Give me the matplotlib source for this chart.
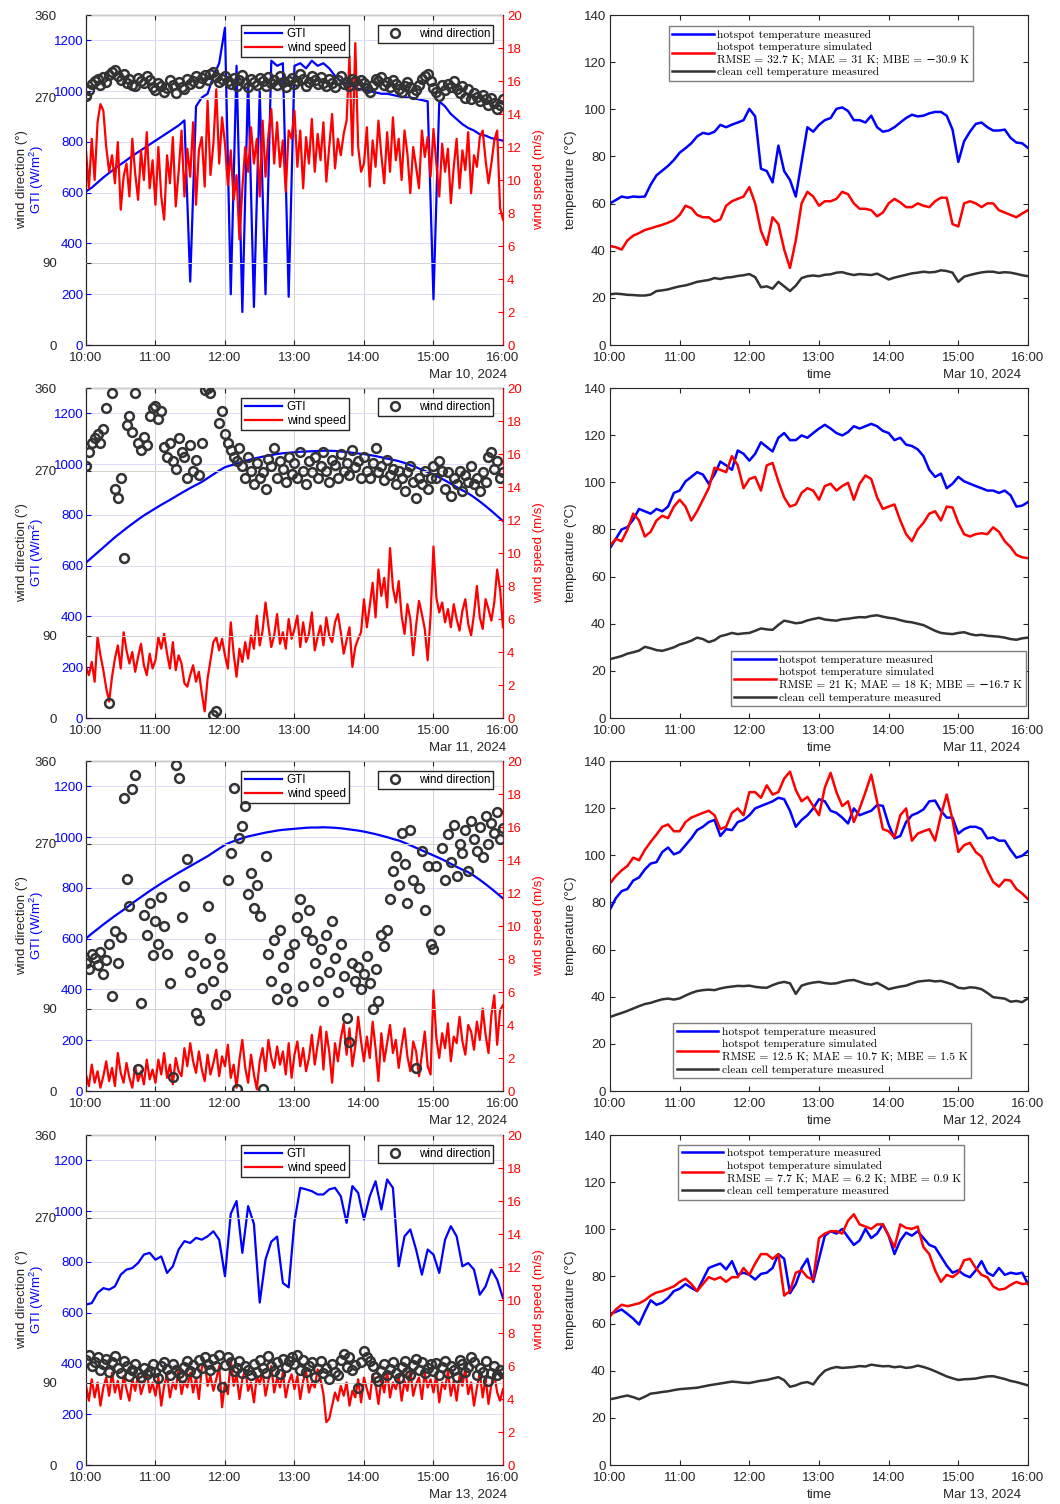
"""GTI / wind and hotspot temperature panels, 10-13 March 2024 (4 x 2 layout)."""
import numpy as np
import matplotlib

matplotlib.use("Agg")
import matplotlib.pyplot as plt
from matplotlib.font_manager import FontProperties

plt.rcParams["font.family"] = ["Liberation Sans", "DejaVu Sans"]
plt.rcParams["mathtext.fontset"] = "custom"
plt.rcParams["mathtext.rm"] = "Liberation Sans"
plt.rcParams["mathtext.it"] = "Liberation Sans:italic"

BLUE = "#0000ff"
RED = "#ff0000"
DARK = "#333333"
AXC = "#262626"

# ── time base: 5-min for GTI / temperatures, 2.5-min for wind ──────────
t5 = 10 + np.arange(73) / 12.0
t25 = 10 + np.arange(145) / 24.0
hours = [10, 11, 12, 13, 14, 15, 16]
hour_labels = ["10:00", "11:00", "12:00", "13:00", "14:00", "15:00", "16:00"]
dates = ["Mar 10, 2024", "Mar 11, 2024", "Mar 12, 2024", "Mar 13, 2024"]
metrics = [
    "RMSE = 32.7 K; MAE = 31 K; MBE = \u221230.9 K",
    "RMSE = 21 K; MAE = 18 K; MBE = \u221216.7 K",
    "RMSE = 12.5 K; MAE = 10.7 K; MBE = 1.5 K",
    "RMSE = 7.7 K; MAE = 6.2 K; MBE = 0.9 K",
]

# ── GTI (W/m2) ─────────────────────────────────────────────────────────
gti_10 = [605, 620, 640, 660, 678, 695, 712, 728, 745, 760, 775, 790,
          805, 820, 835, 850, 865, 885, 250, 940, 975, 990, 1060, 1110,
          1250, 200, 1100, 130, 1050, 150, 1000, 200, 1120, 1100, 1110, 190,
          1100, 1110, 1090, 1120, 1100, 1110, 1090, 1060, 1040, 1030, 1020, 1010,
          1005, 1000, 995, 990, 990, 985, 980, 975, 975, 970, 965, 960,
          180, 960, 940, 910, 890, 870, 855, 845, 830, 825, 815, 810, 805]
gti_11 = [612, 632, 652, 672, 692, 712, 730, 748, 765, 782, 798, 812,
          826, 840, 853, 866, 880, 893, 906, 918, 930, 945, 960, 975,
          988, 995, 1002, 1010, 1016, 1022, 1027, 1032, 1036, 1040, 1043, 1045,
          1047, 1049, 1050, 1051, 1052, 1053, 1053, 1052, 1050, 1048, 1045, 1042,
          1040, 1036, 1032, 1027, 1022, 1017, 1012, 1005, 996, 988, 978, 969,
          960, 948, 936, 923, 910, 897, 885, 870, 853, 835, 816, 796, 776]
gti_12 = [601, 620, 638, 656, 673, 690, 706, 722, 740, 756, 772, 788,
          803, 818, 832, 846, 860, 873, 886, 899, 912, 925, 940, 955,
          970, 980, 988, 996, 1003, 1008, 1013, 1018, 1022, 1026, 1029, 1031,
          1033, 1035, 1037, 1038, 1038, 1039, 1038, 1037, 1035, 1032, 1029, 1026,
          1022, 1017, 1012, 1006, 1000, 993, 987, 978, 968, 958, 948, 938,
          928, 918, 907, 895, 883, 872, 862, 848, 832, 815, 797, 778, 759]
gti_13 = [632, 638, 678, 697, 691, 704, 750, 770, 776, 796, 829, 836,
          809, 822, 757, 783, 849, 882, 875, 895, 888, 901, 921, 888,
          744, 990, 1040, 836, 1020, 950, 640, 810, 880, 900, 717, 700,
          960, 1092, 1086, 1079, 1066, 1066, 1086, 1092, 1059, 954, 1099, 1072,
          967, 1059, 1118, 1007, 1125, 1092, 783, 901, 928, 849, 750, 849,
          829, 757, 888, 941, 901, 783, 796, 770, 671, 704, 770, 730, 658]

# ── wind speed (m/s) ───────────────────────────────────────────────────
ws_10 = [11.8, 9.5, 12.5, 10.0, 13.5, 14.6, 14.2, 12.0, 10.5, 11.5, 9.8, 12.3,
         8.2, 10.2, 11.0, 9.0, 12.5, 10.4, 8.8, 11.8, 10.0, 12.9, 9.5, 11.2,
         8.5, 12.0, 9.0, 7.6, 11.5, 9.8, 12.6, 8.4, 10.5, 13.0, 9.0, 11.9,
         10.2, 13.5, 8.5, 11.8, 12.6, 9.6, 14.8, 10.3, 12.2, 15.5, 11.0, 13.8,
         12.2, 9.7, 11.8, 8.8, 10.3, 6.4, 9.5, 12.0, 10.5, 13.2, 11.0, 12.5,
         9.0, 13.6, 10.2, 12.7, 14.3, 11.0, 13.5, 10.8, 12.4, 9.3, 13.0, 12.5,
         14.2, 10.8, 13.0, 9.5, 12.6, 11.0, 13.7, 10.5, 12.8, 11.2, 13.5, 9.9,
         12.0, 14.0, 10.7, 12.5, 11.5, 12.8, 13.6, 17.5, 11.5, 18.3, 12.0, 10.5,
         11.0, 13.2, 9.6, 12.4, 10.8, 13.6, 11.5, 9.8, 12.9, 10.5, 13.8, 11.2,
         12.5, 10.0, 13.0, 11.6, 9.2, 12.0, 10.8, 9.5, 13.0, 11.4, 12.6, 10.2,
         13.1, 11.0, 9.0, 12.2, 10.5, 11.9, 8.6, 10.8, 12.5, 9.5, 11.8, 10.6,
         12.9, 9.2, 11.5, 10.8, 12.6, 13.0, 11.2, 9.8, 11.0, 12.4, 13.0, 8.3, 7.6]
ws_11 = [3.1, 2.6, 3.4, 2.2, 4.9, 3.8, 2.9, 1.8, 1.0, 2.5, 3.6, 4.4,
         3.0, 5.2, 4.1, 3.3, 4.0, 2.8, 3.7, 4.5, 3.2, 2.6, 3.9, 3.0,
         3.5, 4.9, 4.2, 5.1, 3.9, 3.0, 4.6, 2.9, 3.8, 3.3, 2.1, 1.9,
         2.6, 3.2, 2.2, 2.8, 1.5, 0.4, 2.4, 3.5, 4.6, 4.9, 4.1, 4.8,
         3.8, 3.0, 5.8, 3.9, 2.5, 4.2, 3.4, 4.6, 3.6, 5.0, 4.2, 6.2,
         4.4, 5.3, 7.0, 5.6, 4.3, 5.0, 6.3, 4.5, 5.2, 4.2, 6.0, 4.8,
         5.4, 6.2, 4.3, 5.8, 4.6, 5.1, 6.4, 4.1, 4.9, 5.6, 4.4, 6.1,
         5.0, 4.6, 5.8, 6.3, 5.2, 3.9, 4.7, 5.5, 3.1, 4.3, 4.8, 5.2,
         7.2, 5.5, 6.8, 8.2, 6.1, 9.0, 7.4, 8.5, 6.7, 10.3, 7.9, 7.0,
         8.3, 6.2, 5.1, 6.9, 6.0, 3.8, 5.6, 7.1, 6.3, 5.4, 3.5, 6.2,
         10.4, 7.3, 6.4, 7.0, 5.8, 6.6, 5.5, 6.9, 6.0, 5.3, 6.5, 7.2,
         5.7, 5.0, 6.3, 8.0, 6.1, 5.4, 7.2, 6.6, 5.9, 7.0, 9.0, 7.8, 5.5]
ws_12 = [1.0, 0.3, 1.6, 0.5, 1.2, 0.2, 0.9, 1.8, 0.6, 1.4, 0.3, 2.3,
         1.1, 0.5, 1.7, 0.8, 0.2, 1.5, 0.6, 1.2, 0.4, 1.9, 0.7, 1.3,
         0.5, 1.9, 1.0, 2.3, 0.8, 1.6, 0.4, 2.0, 1.2, 0.9, 2.6, 1.5,
         2.9, 1.8, 1.1, 2.4, 1.3, 0.6, 2.2, 1.0, 1.7, 2.5, 0.9, 2.1,
         1.5, 2.8, 0.8, 1.6, 0.2, 1.9, 3.1, 1.4, 0.5, 2.2, 1.0, 0.1,
         1.8, 2.6, 1.2, 3.1, 2.0, 1.4, 2.7, 1.6, 2.4, 1.0, 2.9, 0.8,
         2.2, 3.0, 1.5, 2.6, 1.2, 2.0, 3.4, 1.6, 2.8, 3.9, 1.3, 3.6,
         2.4, 0.5, 2.9, 1.8, 3.2, 4.1, 2.2, 3.8, 1.5, 2.7, 4.5, 3.0,
         1.8, 3.3, 2.0, 4.2, 2.6, 0.6, 3.5, 1.8, 2.9, 4.0, 2.3, 3.1,
         1.4, 2.7, 3.8, 2.1, 1.2, 3.0, 2.4, 0.9, 2.2, 3.6, 1.5, 1.0,
         6.1, 3.2, 2.0, 3.5, 2.6, 4.1, 1.8, 3.3, 2.9, 4.5, 3.0, 2.2,
         4.0, 3.6, 2.5, 4.2, 3.1, 5.0, 3.4, 2.3, 4.6, 5.8, 2.8, 4.9, 5.2]
ws_13 = [4.8, 3.9, 5.2, 4.1, 5.0, 3.6, 4.7, 5.3, 4.2, 5.6, 4.4, 5.1,
         4.0, 5.4, 4.6, 3.9, 5.2, 4.5, 5.5, 4.3, 4.9, 5.7, 4.4, 5.0,
         4.2, 5.3, 3.6, 4.8, 5.5, 4.1, 5.0, 4.6, 5.8, 4.3, 5.1, 4.7,
         5.6, 4.4, 5.3, 4.0, 5.9, 6.3, 4.8, 5.4, 4.5, 5.2, 6.0, 3.5,
         5.0, 4.3, 6.4, 4.8, 5.5, 4.0, 5.2, 5.8, 4.5, 5.0, 3.8, 5.4,
         4.9, 5.7, 4.2, 5.1, 6.0, 4.4, 5.3, 4.7, 5.6, 4.1, 5.0, 5.5,
         4.6, 5.4, 4.0, 5.1, 5.7, 4.4, 5.0, 4.7, 5.8, 5.2, 4.3, 2.6,
         2.8, 3.6, 4.4, 3.9, 4.8, 4.2, 5.0, 3.6, 4.5, 4.1, 5.2, 3.8,
         5.3, 4.6, 4.0, 5.5, 4.9, 3.7, 5.2, 4.4, 5.7, 4.1, 5.0, 4.6,
         5.4, 3.9, 5.1, 4.5, 5.8, 4.2, 4.9, 5.3, 4.0, 5.6, 4.7, 5.2,
         4.4, 5.5, 3.8, 5.0, 4.6, 5.7, 4.2, 5.1, 3.9, 5.4, 4.8, 5.9,
         4.3, 5.0, 3.6, 4.7, 5.6, 4.1, 5.3, 3.7, 4.9, 5.5, 4.4, 3.9, 4.6]

# ── wind direction (deg) ───────────────────────────────────────────────
wd_10 = [272, 278, 285, 288, 290, 284, 292, 287, 295, 298, 300, 294,
         289, 296, 286, 290, 284, 283, 291, 288, 286, 293, 289, 281,
         278, 286, 283, 276, 280, 289, 284, 275, 287, 282, 279, 290,
         285, 288, 293, 286, 291, 295, 289, 296, 298, 292, 287, 290,
         294, 288, 285, 291, 283, 289, 295, 286, 282, 290, 287, 284,
         291, 288, 283, 292, 286, 289, 284, 293, 287, 282, 288, 291,
         285, 288, 296, 290, 283, 287, 294, 289, 285, 292, 286, 283,
         290, 286, 281, 289, 293, 285, 287, 283, 290, 288, 284, 289,
         286, 280, 276, 284, 290, 288, 292, 284, 287, 282, 289, 285,
         279, 276, 283, 287, 281, 274, 278, 284, 290, 293, 296, 288,
         280, 276, 272, 284, 278, 285, 281, 288, 279, 275, 283, 270,
         279, 268, 275, 271, 266, 273, 268, 262, 270, 264, 258, 262, 268]
wd_11 = [275, 290, 300, 305, 310, 300, 315, 338, 16, 355, 250, 240,
         262, 175, 320, 330, 312, 355, 300, 292, 307, 298, 330, 338,
         340, 326, 335, 296, 285, 300, 280, 272, 305, 290, 285, 262,
         298, 270, 282, 265, 300, 358, 360, 355, 3, 8, 322, 335,
         310, 300, 292, 285, 280, 295, 275, 262, 285, 270, 255, 278,
         262, 268, 250, 283, 275, 295, 262, 280, 272, 258, 285, 266,
         278, 262, 290, 270, 255, 280, 268, 285, 262, 275, 290, 270,
         258, 282, 276, 262, 288, 270, 278, 265, 292, 274, 280, 262,
         285, 270, 262, 278, 295, 268, 275, 260, 282, 265, 272, 255,
         270, 262, 248, 268, 275, 258, 240, 262, 255, 270, 250, 262,
         275, 262, 280, 270, 250, 268, 242, 262, 255, 270, 248, 265,
         258, 275, 255, 262, 248, 268, 258, 285, 290, 272, 280, 262, 268]
wd_12 = [140, 133, 150, 145, 138, 152, 128, 143, 160, 104, 175, 140,
         168, 320, 231, 202, 329, 345, 24, 96, 192, 170, 205, 148,
         185, 160, 212, 180, 150, 118, 15, 356, 342, 190, 224, 253,
         130, 148, 85, 78, 112, 140, 202, 167, 120, 95, 150, 135,
         105, 230, 260, 331, 2, 276, 289, 311, 215, 238, 200, 225,
         191, 2, 256, 150, 120, 165, 100, 176, 135, 112, 150, 98,
         160, 190, 209, 115, 175, 198, 165, 140, 120, 155, 98, 170,
         130, 185, 145, 108, 160, 125, 80, 53, 140, 120, 135, 111,
         128, 147, 118, 90, 133, 98, 170, 158, 176, 210, 240, 256,
         225, 282, 248, 205, 285, 230, 25, 222, 262, 198, 245, 160,
         155, 245, 176, 265, 230, 280, 250, 290, 235, 270, 260, 285,
         240, 295, 275, 262, 288, 255, 300, 270, 292, 282, 304, 275, 287]
wd_13 = [115, 120, 108, 112, 118, 104, 110, 116, 102, 112, 119, 106,
         100, 113, 108, 97, 104, 110, 100, 96, 106, 99, 103, 110,
         102, 95, 108, 112, 105, 98, 110, 104, 100, 96, 107, 113,
         103, 109, 100, 115, 106, 118, 110, 104, 116, 108, 120, 85,
         109, 118, 112, 103, 106, 114, 100, 108, 104, 98, 110, 102,
         115, 106, 100, 119, 108, 103, 112, 99, 116, 107, 113, 118,
         110, 120, 104, 115, 101, 108, 112, 96, 105, 113, 100, 106,
         94, 110, 102, 98, 115, 121, 107, 118, 104, 109, 84, 112,
         124, 118, 113, 108, 96, 92, 103, 110, 98, 105, 112, 100,
         95, 107, 114, 102, 98, 109, 116, 104, 112, 100, 106, 110,
         103, 111, 98, 107, 114, 100, 108, 104, 96, 115, 110, 101,
         107, 118, 112, 98, 106, 102, 113, 92, 100, 108, 98, 104, 100]

# ── hotspot measured (degC) ────────────────────────────────────────────
hs_meas_10 = [60.1, 61.5, 63.0, 62.5, 63.0, 62.8, 63.0, 68.0, 72.0, 74.0, 76.0, 78.5,
              81.6, 83.5, 85.6, 88.5, 90.0, 89.5, 90.5, 93.4, 92.4, 93.5, 94.4, 95.4,
              100.2, 97.0, 74.8, 73.8, 69.0, 84.6, 73.8, 70.0, 63.0, 77.7, 92.4, 90.5,
              93.4, 95.4, 96.3, 100.2, 100.8, 99.3, 95.4, 95.4, 94.4, 97.3, 92.4, 90.5,
              91.0, 92.4, 94.4, 96.3, 97.7, 97.0, 97.3, 98.3, 98.9, 98.9, 97.3, 91.4,
              77.7, 86.5, 90.5, 93.8, 94.4, 92.4, 91.0, 91.0, 91.4, 87.9, 85.9, 85.6, 83.6]
hs_meas_11 = [72.1, 76.0, 80.0, 81.0, 84.2, 88.7, 87.7, 86.7, 88.7, 87.7, 89.7, 95.5,
              96.5, 100.4, 102.3, 104.3, 103.3, 99.4, 103.3, 108.8, 107.2, 105.3, 113.5, 112.1,
              109.2, 112.1, 117.0, 115.0, 113.1, 118.9, 120.9, 117.9, 117.9, 119.9, 118.9, 120.9,
              122.8, 124.4, 122.8, 120.9, 119.9, 121.3, 123.8, 122.8, 123.8, 124.8, 123.8, 121.8,
              120.9, 117.9, 118.9, 116.0, 115.4, 114.0, 111.1, 105.3, 102.3, 103.7, 97.5, 99.4,
              102.3, 100.4, 99.4, 98.4, 97.5, 96.5, 96.5, 95.5, 96.5, 94.5, 89.7, 90.1, 91.6]
hs_meas_12 = [77.0, 81.8, 84.8, 85.7, 89.3, 90.6, 94.0, 96.5, 97.1, 101.4, 103.3, 100.4,
              101.4, 104.3, 107.2, 110.7, 112.1, 114.1, 115.0, 108.2, 111.1, 110.7, 114.1, 115.0,
              117.0, 119.9, 120.9, 121.9, 122.9, 124.4, 123.8, 118.9, 112.1, 115.0, 117.0, 119.9,
              123.8, 122.9, 118.9, 118.0, 116.0, 113.5, 119.9, 117.0, 118.0, 118.9, 121.3, 121.0,
              113.0, 107.2, 108.2, 114.1, 117.0, 118.0, 119.5, 122.9, 123.2, 118.9, 116.0, 116.0,
              109.2, 111.1, 112.1, 112.1, 111.1, 107.2, 107.6, 106.2, 106.2, 102.3, 99.0, 99.8, 101.8]
hs_meas_13 = [64.1, 65.0, 66.0, 64.1, 62.1, 59.6, 65.0, 69.9, 68.0, 68.9, 70.9, 73.8,
              74.8, 76.8, 75.2, 73.8, 78.7, 83.6, 84.6, 85.5, 83.0, 86.5, 80.7, 81.6,
              80.7, 78.7, 81.1, 81.6, 83.6, 89.5, 87.5, 72.9, 76.8, 83.6, 87.5, 77.7,
              87.5, 97.3, 99.2, 98.2, 100.2, 96.7, 93.4, 95.3, 100.2, 96.3, 98.2, 102.1,
              97.3, 89.5, 95.3, 98.6, 97.3, 99.2, 96.3, 93.4, 92.4, 88.5, 84.6, 81.6,
              82.6, 80.7, 79.7, 82.6, 86.5, 81.6, 80.3, 83.6, 80.7, 81.6, 81.1, 81.6, 76.8]

# ── hotspot simulated (degC) ───────────────────────────────────────────
hs_sim_10 = [42.0, 41.5, 40.5, 44.4, 46.4, 47.5, 48.8, 49.5, 50.3, 51.0, 51.9, 53.0,
             55.2, 59.1, 58.1, 55.2, 54.2, 54.2, 52.3, 53.3, 59.1, 61.0, 62.0, 63.0,
             67.0, 60.1, 48.4, 42.5, 54.2, 51.3, 40.5, 32.7, 44.4, 60.1, 65.0, 63.0,
             59.1, 61.0, 61.0, 62.0, 65.0, 64.0, 60.1, 57.8, 57.8, 57.2, 54.6, 56.2,
             60.1, 62.0, 60.5, 58.5, 58.5, 60.1, 59.1, 58.5, 61.0, 62.5, 62.5, 51.3,
             50.3, 60.1, 61.0, 60.1, 58.5, 60.1, 60.1, 57.2, 56.2, 55.2, 54.2, 55.8, 57.2]
hs_sim_11 = [73.1, 76.0, 75.0, 80.0, 86.7, 83.8, 77.0, 79.0, 83.8, 85.8, 84.8, 89.7,
             92.6, 89.7, 83.8, 87.7, 92.6, 97.5, 106.2, 105.3, 104.3, 111.1, 107.2, 97.5,
             101.4, 102.3, 96.5, 107.2, 108.2, 100.4, 93.6, 89.7, 90.6, 95.5, 97.5, 96.5,
             92.6, 98.4, 99.4, 96.5, 98.4, 99.8, 92.6, 99.4, 102.9, 101.4, 93.6, 88.7,
             89.7, 90.6, 83.8, 78.0, 75.0, 80.0, 82.8, 86.7, 87.7, 83.8, 89.7, 89.3,
             82.8, 78.0, 77.0, 78.0, 78.4, 78.0, 80.9, 79.0, 75.0, 72.5, 69.2, 68.2, 67.8]
hs_sim_12 = [88.1, 91.2, 93.6, 95.5, 99.0, 97.9, 102.3, 105.7, 108.8, 112.1, 113.1, 110.2,
             110.2, 114.1, 116.0, 117.0, 118.0, 118.9, 117.0, 111.1, 112.1, 118.0, 119.9, 117.0,
             126.8, 126.8, 124.4, 129.7, 125.8, 126.8, 132.6, 135.5, 127.7, 122.9, 124.8, 120.9,
             117.0, 128.7, 135.0, 126.8, 120.9, 122.9, 114.1, 119.9, 126.8, 134.2, 122.9, 111.1,
             110.2, 107.6, 117.0, 119.9, 106.2, 109.2, 110.2, 111.1, 106.2, 117.0, 125.8, 115.0,
             101.4, 104.3, 105.3, 101.4, 99.4, 93.6, 88.7, 86.7, 89.6, 89.3, 85.7, 83.8, 81.4]
hs_sim_13 = [63.1, 66.0, 68.0, 67.4, 68.0, 68.6, 69.9, 71.9, 73.2, 73.8, 74.8, 75.8,
             77.7, 79.1, 76.8, 73.8, 76.8, 79.7, 78.7, 79.7, 77.7, 79.7, 79.7, 83.6,
             80.7, 85.5, 89.5, 89.5, 87.5, 89.5, 71.9, 73.8, 81.6, 82.6, 79.7, 78.7,
             96.3, 98.2, 99.2, 99.2, 98.2, 103.7, 106.4, 102.1, 101.2, 100.2, 102.1, 102.1,
             97.3, 92.4, 102.1, 100.6, 100.2, 101.2, 92.4, 89.5, 82.6, 77.7, 80.7, 79.7,
             81.6, 86.9, 87.5, 83.6, 80.7, 79.7, 75.8, 74.4, 74.8, 76.4, 77.7, 76.8, 77.1]

# ── clean cell measured (degC) ─────────────────────────────────────────
clean_10 = [21.5, 21.8, 21.6, 21.3, 21.2, 21.0, 21.0, 21.4, 22.9, 23.2, 23.6, 24.3,
            24.9, 25.3, 26.0, 26.8, 27.2, 27.6, 28.4, 28.0, 28.6, 28.8, 29.3, 29.6,
            30.1, 28.8, 24.5, 24.9, 23.9, 26.8, 24.9, 22.9, 25.2, 28.4, 29.2, 29.5,
            29.2, 29.8, 30.0, 30.7, 30.9, 30.2, 29.7, 30.1, 29.9, 29.7, 30.3, 29.1,
            27.8, 28.6, 29.2, 29.8, 30.4, 30.7, 31.1, 30.8, 31.0, 31.7, 31.4, 30.7,
            26.8, 29.0, 29.7, 30.3, 30.8, 31.1, 31.1, 30.6, 30.9, 30.7, 30.2, 29.6, 29.2]
clean_11 = [25.0, 25.6, 26.3, 27.3, 27.9, 28.6, 30.2, 29.6, 28.8, 28.5, 29.2, 30.0,
            31.2, 31.9, 32.8, 34.1, 33.5, 32.2, 33.0, 34.7, 35.3, 36.1, 35.6, 35.9,
            36.1, 37.0, 38.0, 37.6, 37.4, 39.5, 41.3, 40.8, 40.2, 40.5, 41.4, 42.0,
            42.5, 41.8, 41.5, 41.3, 41.9, 42.1, 42.5, 42.8, 42.7, 43.3, 43.6, 43.0,
            42.5, 42.2, 41.5, 40.9, 40.6, 40.0, 39.4, 38.2, 37.0, 36.1, 35.8, 35.6,
            36.1, 36.4, 35.6, 35.1, 35.3, 34.9, 34.7, 34.5, 34.1, 33.5, 33.2, 33.8, 34.1]
clean_12 = [31.4, 32.3, 33.1, 34.0, 35.0, 36.0, 36.9, 37.4, 38.2, 38.9, 39.2, 38.8,
            39.3, 40.5, 41.6, 42.4, 42.8, 43.0, 42.8, 43.5, 44.0, 44.3, 44.6, 44.5,
            44.7, 44.2, 43.9, 43.8, 44.9, 45.8, 46.3, 45.7, 41.2, 44.7, 45.5, 46.0,
            46.3, 45.8, 45.5, 45.7, 46.4, 46.9, 47.1, 46.3, 45.5, 45.1, 45.9, 44.6,
            43.2, 43.8, 44.3, 44.7, 45.6, 46.4, 46.7, 46.9, 46.5, 46.7, 46.0, 45.2,
            43.8, 43.5, 44.0, 43.8, 43.2, 41.6, 39.8, 39.5, 39.2, 37.9, 38.2, 37.7, 39.3]
clean_13 = [27.9, 28.4, 29.0, 29.5, 28.8, 27.9, 29.0, 30.3, 30.6, 31.0, 31.3, 31.8,
            32.2, 32.4, 32.6, 32.8, 33.3, 33.8, 34.2, 34.6, 35.0, 35.4, 35.2, 34.9,
            34.8, 35.3, 35.8, 36.1, 36.7, 37.3, 36.0, 33.2, 33.8, 34.8, 35.2, 34.2,
            37.5, 40.0, 41.0, 41.6, 41.2, 41.4, 41.6, 42.0, 41.8, 42.6, 42.2, 41.9,
            42.0, 41.5, 41.8, 41.2, 41.5, 42.2, 41.6, 40.8, 39.8, 38.7, 37.6, 36.8,
            36.1, 36.4, 36.5, 36.7, 37.2, 37.6, 37.7, 37.1, 36.5, 35.7, 35.2, 34.5, 33.8]

days = [
    (gti_10, ws_10, wd_10, hs_meas_10, hs_sim_10, clean_10),
    (gti_11, ws_11, wd_11, hs_meas_11, hs_sim_11, clean_11),
    (gti_12, ws_12, wd_12, hs_meas_12, hs_sim_12, clean_12),
    (gti_13, ws_13, wd_13, hs_meas_13, hs_sim_13, clean_13),
]

# ── layout ─────────────────────────────────────────────────────────────
row_bottoms = [0.7706, 0.5226, 0.2746, 0.0259]
row_h = 0.2194
left_x, left_w = 0.0811, 0.3934
right_x, right_w = 0.5755, 0.3943
temp_leg = [("upper left", (0.141, 0.966)), ("lower left", (0.289, 0.036)),
            ("lower left", (0.151, 0.039)), ("upper left", (0.163, 0.970))]
serif = FontProperties(family=["cmr10", "DejaVu Serif"], size=8.3)

fig = plt.figure(figsize=(10.6, 15.04), dpi=100, facecolor="white")


def style_x(ax):
    ax.set_xlim(10, 16)
    ax.set_xticks(hours)
    ax.set_xticklabels(hour_labels)
    ax.tick_params(axis="x", direction="in", length=3.5, labelsize=9.5,
                   colors=AXC, top=True, pad=5)


for k, (gti, ws, wd, meas, sim, clean) in enumerate(days):
    b = row_bottoms[k]

    # ── left: GTI / wind speed / wind direction ────────────────────────
    ax = fig.add_axes([left_x, b, left_w, row_h])
    l_gti, = ax.plot(t5, gti, color=BLUE, lw=1.6)
    ax.set_ylim(0, 1300)
    ax.set_yticks(range(0, 1201, 200))
    ax.tick_params(axis="y", direction="in", length=3.5, labelsize=9.5,
                   colors=BLUE, pad=2)
    style_x(ax)
    ax.grid(axis="x", color="#d2d2d2", lw=0.7)
    ax.grid(axis="y", color="#dcdcfa", lw=0.7)
    for s in ax.spines.values():
        s.set_color(AXC)
        s.set_linewidth(0.8)
    ax.set_ylabel("GTI (W/m$^2$)", color=BLUE, fontsize=9.5)
    ax.yaxis.set_label_coords(-0.095, 0.5)
    ax.text(0.916, -0.088, dates[k], transform=ax.transAxes, ha="center",
            va="center", fontsize=9.5, color=AXC)

    ax_ws = ax.twinx()
    l_ws, = ax_ws.plot(t25, ws, color=RED, lw=1.6)
    ax_ws.set_ylim(0, 20)
    ax_ws.set_yticks(range(0, 21, 2))
    ax_ws.tick_params(axis="y", direction="in", length=3.5, labelsize=9.5,
                      colors=RED, pad=3)
    for s in ax_ws.spines.values():
        s.set_color(AXC)
        s.set_linewidth(0.8)
    ax_ws.spines["right"].set_color(RED)
    ax_ws.set_ylabel("wind speed (m/s)", color=RED, fontsize=9.5)
    ax_ws.yaxis.set_label_coords(1.072, 0.5)

    ax_wd = ax.twinx()
    l_wd, = ax_wd.plot(t25, wd, "o", mfc="none", mec=DARK, ms=6.3, mew=1.8)
    ax_wd.set_ylim(0, 360)
    ax_wd.set_yticks([0, 90, 270, 360])
    ax_wd.yaxis.tick_left()
    ax_wd.yaxis.set_label_position("left")
    ax_wd.tick_params(axis="y", direction="in", length=3.5, labelsize=9.5,
                      colors=AXC, pad=21)
    ax_wd.grid(axis="y", color="#d2d2d2", lw=0.7)
    for s in ax_wd.spines.values():
        s.set_visible(False)
    ax_wd.set_ylabel("wind direction (\u00b0)", color=AXC, fontsize=9.5)
    ax_wd.yaxis.set_label_coords(-0.138, 0.5)

    ax_ws.legend([l_gti, l_ws], ["GTI", "wind speed"], loc="upper left",
                 bbox_to_anchor=(0.372, 0.97), borderaxespad=0, fancybox=False,
                 framealpha=1, edgecolor=AXC, fontsize=8.4, handlelength=3.2,
                 handletextpad=0.4, labelspacing=0.1, borderpad=0.3)
    ax_wd.legend([l_wd], ["wind direction"], loc="upper right",
                 bbox_to_anchor=(0.976, 0.97), borderaxespad=0, fancybox=False,
                 framealpha=1, edgecolor=AXC, fontsize=8.4, handlelength=2.4,
                 handletextpad=0.8, borderpad=0.25)

    # ── right: temperatures ────────────────────────────────────────────
    axr = fig.add_axes([right_x, b, right_w, row_h])
    h1, = axr.plot(t5, meas, color=BLUE, lw=1.8)
    h2, = axr.plot(t5, sim, color=RED, lw=1.8)
    h3, = axr.plot(t5, clean, color=DARK, lw=1.8)
    axr.set_ylim(0, 140)
    axr.set_yticks(range(0, 141, 20))
    axr.tick_params(axis="y", direction="in", length=3.5, labelsize=9.5,
                    colors=AXC, right=True, pad=3)
    style_x(axr)
    for s in axr.spines.values():
        s.set_color(AXC)
        s.set_linewidth(0.8)
    axr.set_ylabel("temperature (\u00b0C)", fontsize=9.5, color=AXC)
    axr.yaxis.set_label_coords(-0.079, 0.5)
    axr.set_xlabel("time", fontsize=9.5, color=AXC)
    axr.xaxis.set_label_coords(0.5, -0.072)
    axr.text(0.89, -0.088, dates[k], transform=axr.transAxes, ha="center",
             va="center", fontsize=9.5, color=AXC)
    loc, anchor = temp_leg[k]
    leg = axr.legend([h1, h2, h3],
                     ["hotspot temperature measured",
                      "hotspot temperature simulated\n" + metrics[k],
                      "clean cell temperature measured"],
                     loc=loc, bbox_to_anchor=anchor, borderaxespad=0, prop=serif,
                     fancybox=False, framealpha=1, edgecolor="#7f7f7f",
                     handlelength=3.6, handletextpad=0.3, labelspacing=0.2,
                     borderpad=0.3)
    for txt in leg.get_texts():
        txt.set_linespacing(1.35)

fig.savefig("out.png", dpi=100, facecolor="white")
